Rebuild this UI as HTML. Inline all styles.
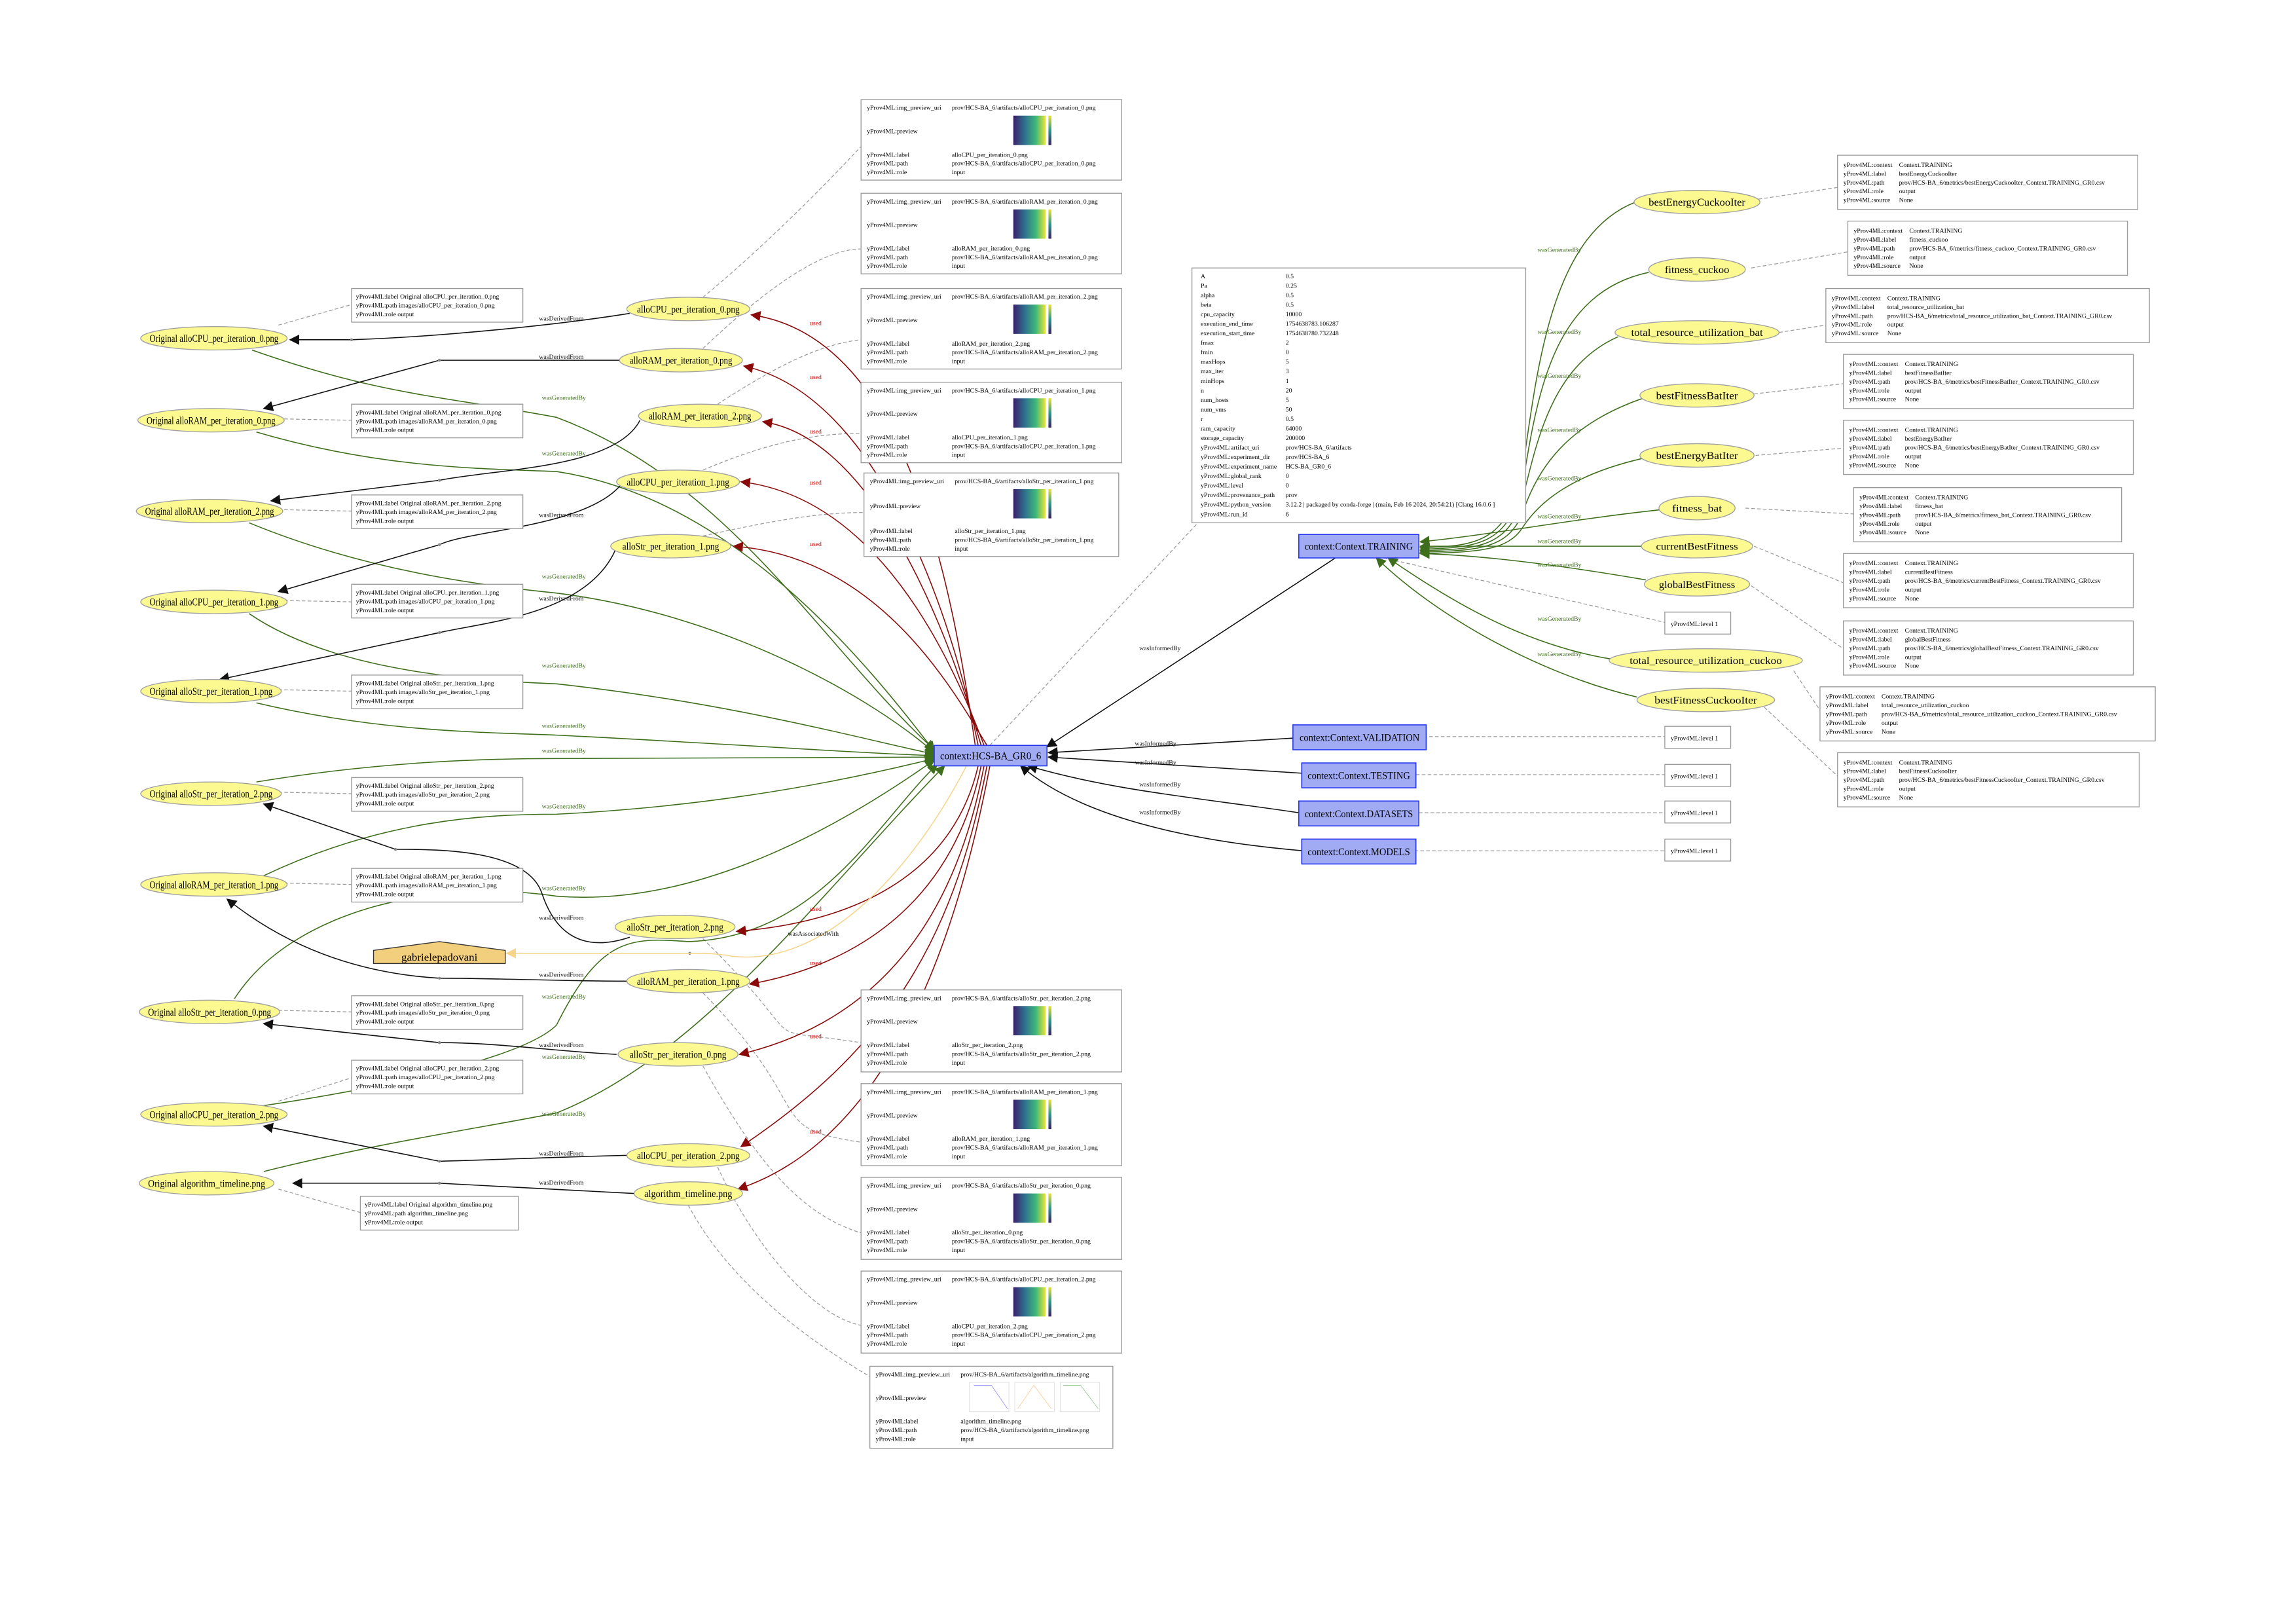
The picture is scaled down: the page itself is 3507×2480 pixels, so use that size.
<!DOCTYPE html>
<html><head><meta charset="utf-8"><style>
html,body{margin:0;padding:0;background:#fff;}
svg{display:block;}
text{font-family:"Liberation Serif",serif;}
.e{fill:#fbf98f;stroke:#a0a0a0;stroke-width:.6;}
.el{font-size:7px;text-anchor:middle;}
.n{fill:#fff;stroke:#999;stroke-width:.6;}
.nt{font-size:4.4px;}
.c{fill:#a1abf4;stroke:#2233ee;stroke-width:.7;}
.ct{font-size:7px;text-anchor:middle;}
.g{fill:none;stroke:#3e6e1c;stroke-width:.7;}
.r{fill:none;stroke:#8a0a0a;stroke-width:.7;}
.k{fill:none;stroke:#111;stroke-width:.7;}
.d{fill:none;stroke:#999;stroke-width:.55;stroke-dasharray:2.5,1.5;}
.lg{font-size:4.4px;fill:#3e6e1c;}
.lr{font-size:4.4px;fill:#cc0000;}
.lk{font-size:4.4px;fill:#111;}
</style></head><body>
<svg width="3507" height="2480" viewBox="0 0 1568 1109" xmlns="http://www.w3.org/2000/svg">
<defs>
<marker id="ag" viewBox="0 0 10 10" refX="9" refY="5" markerWidth="7" markerHeight="7" orient="auto" markerUnits="userSpaceOnUse"><path d="M0,0L10,5L0,10z" fill="#3e6e1c"/></marker>
<marker id="ar" viewBox="0 0 10 10" refX="9" refY="5" markerWidth="7" markerHeight="7" orient="auto" markerUnits="userSpaceOnUse"><path d="M0,0L10,5L0,10z" fill="#8a0a0a"/></marker>
<marker id="ak" viewBox="0 0 10 10" refX="9" refY="5" markerWidth="7" markerHeight="7" orient="auto" markerUnits="userSpaceOnUse"><path d="M0,0L10,5L0,10z" fill="#111"/></marker>
<marker id="ao" viewBox="0 0 10 10" refX="9" refY="5" markerWidth="7" markerHeight="7" orient="auto" markerUnits="userSpaceOnUse"><path d="M0,0L10,5L0,10z" fill="#f5d58a"/></marker>
<linearGradient id="vir" x1="0" x2="1"><stop offset="0" stop-color="#3b1f6a"/><stop offset=".35" stop-color="#2f6f8e"/><stop offset=".7" stop-color="#3db87a"/><stop offset="1" stop-color="#e6e33a"/></linearGradient>
<linearGradient id="vbar" x1="0" x2="0" y1="1" y2="0"><stop offset="0" stop-color="#3b1f6a"/><stop offset=".5" stop-color="#2a9a8a"/><stop offset="1" stop-color="#f0e030"/></linearGradient>
</defs>

<g class="d">
<path d="M190,222 L240,208"/><path d="M190,286 L240,287"/><path d="M190,348 L240,349"/><path d="M190,410 L240,411"/><path d="M190,471 L240,472"/><path d="M190,541 L240,542"/><path d="M190,603 L240,604"/><path d="M190,690 L240,691"/><path d="M190,752 L240,736"/><path d="M190,812 L246,828"/>
<path d="M480,203 C520,170 560,130 588,100"/><path d="M480,238 C520,200 560,170 588,170"/><path d="M490,276 C530,250 560,235 588,232"/><path d="M480,321 C530,300 560,296 588,296"/><path d="M480,366 C530,355 560,350 590,350"/>
<path d="M480,641 C560,720 510,700 588,712"/><path d="M480,678 C560,760 520,770 588,780"/><path d="M480,728 C520,800 550,830 588,842"/><path d="M490,797 C520,860 560,900 588,905"/><path d="M470,823 C500,880 560,920 594,940"/>
<path d="M676,509 L820,355"/>
<path d="M1201,136 L1255,128"/><path d="M1196,183 L1262,172"/><path d="M1215,227 L1247,222"/><path d="M1198,269 L1259,262"/><path d="M1199,311 L1259,306"/><path d="M1192,347 L1266,351"/><path d="M1198,373 L1259,398"/><path d="M1196,400 L1259,443"/><path d="M1225,458 L1243,485"/><path d="M1205,483 L1255,530"/>
<path d="M945,381 L1137,425"/><path d="M972,503 L1137,503"/><path d="M967,529 L1137,529"/><path d="M969,555 L1137,555"/><path d="M966,581 L1137,581"/>
</g>

<g class="g">
<path d="M172,239 C260,270 300,270 380,285 C500,330 560,440 638,512" marker-end="url(#ag)"/>
<path d="M175,295 C260,320 330,320 380,322 C500,340 590,450 638,513" marker-end="url(#ag)"/>
<path d="M170,357 C250,390 330,400 380,405 C500,420 600,480 638,514" marker-end="url(#ag)"/>
<path d="M170,419 C230,460 330,465 380,467 C500,480 590,505 638,515" marker-end="url(#ag)"/>
<path d="M175,480 C260,500 330,500 380,502 C500,508 580,514 638,516" marker-end="url(#ag)"/>
<path d="M175,534 C260,520 330,518 380,518 C500,518 590,517 638,517" marker-end="url(#ag)"/>
<path d="M180,598 C260,560 330,556 380,556 C500,550 590,530 638,518" marker-end="url(#ag)"/>
<path d="M160,682 C200,620 300,600 380,612 C480,620 580,560 638,519" marker-end="url(#ag)"/>
<path d="M180,755 C280,740 360,720 380,700 C410,640 430,640 470,643 C560,640 600,560 640,522" marker-end="url(#ag)"/>
<path d="M180,800 C260,780 330,770 380,760 C480,720 560,610 645,523" marker-end="url(#ag)"/>
</g>
<g class="lg">
<text x="370" y="273">wasGeneratedBy</text><text x="370" y="311">wasGeneratedBy</text><text x="370" y="395">wasGeneratedBy</text><text x="370" y="456">wasGeneratedBy</text><text x="370" y="497">wasGeneratedBy</text><text x="370" y="514">wasGeneratedBy</text><text x="370" y="552">wasGeneratedBy</text><text x="370" y="608">wasGeneratedBy</text><text x="370" y="682">wasGeneratedBy</text><text x="370" y="723">wasGeneratedBy</text><text x="370" y="762">wasGeneratedBy</text>
</g>

<g class="k">
<path d="M430,214 C380,222 300,230 240,232 L198,232" marker-end="url(#ak)"/>
<path d="M424,246 L300,246 L180,279" marker-end="url(#ak)"/>
<path d="M437,287 C420,320 340,320 300,328 L185,342" marker-end="url(#ak)"/>
<path d="M424,331 C400,360 320,362 300,372 L190,404" marker-end="url(#ak)"/>
<path d="M420,376 C400,420 330,425 300,432 L150,464" marker-end="url(#ak)"/>
<path d="M430,640 C400,650 380,640 370,610 C360,580 300,580 270,580 L180,549" marker-end="url(#ak)"/>
<path d="M428,670 C380,670 340,668 300,668 C250,665 200,650 155,614" marker-end="url(#ak)"/>
<path d="M421,720 C380,718 340,712 300,712 L180,699" marker-end="url(#ak)"/>
<path d="M428,789 C380,790 340,792 300,793 L180,769" marker-end="url(#ak)"/>
<path d="M433,815 C380,812 340,810 300,808 L200,808" marker-end="url(#ak)"/>
</g>
<g fill="#888"><circle cx="300" cy="246" r="1"/><circle cx="240" cy="232" r="1"/><circle cx="300" cy="328" r="1"/><circle cx="300" cy="372" r="1"/><circle cx="300" cy="432" r="1"/><circle cx="270" cy="580" r="1"/><circle cx="300" cy="668" r="1"/><circle cx="300" cy="712" r="1"/><circle cx="300" cy="793" r="1"/><circle cx="300" cy="808" r="1"/><circle cx="471" cy="651" r="1"/></g>
<g class="lk">
<text x="368" y="219">wasDerivedFrom</text><text x="368" y="245">wasDerivedFrom</text><text x="368" y="353">wasDerivedFrom</text><text x="368" y="410">wasDerivedFrom</text><text x="368" y="628">wasDerivedFrom</text><text x="368" y="667">wasDerivedFrom</text><text x="368" y="715">wasDerivedFrom</text><text x="368" y="789">wasDerivedFrom</text><text x="368" y="809">wasDerivedFrom</text>
</g>

<g class="r">
<path d="M666,509 C650,400 620,230 513,215" marker-end="url(#ar)"/>
<path d="M668,509 C650,420 600,270 508,250" marker-end="url(#ar)"/>
<path d="M670,509 C650,440 600,300 521,288" marker-end="url(#ar)"/>
<path d="M672,509 C650,450 600,340 506,329" marker-end="url(#ar)"/>
<path d="M674,509 C650,470 600,380 501,373" marker-end="url(#ar)"/>
<path d="M668,523 C650,600 580,630 503,636" marker-end="url(#ar)"/>
<path d="M670,523 C650,620 580,660 512,672" marker-end="url(#ar)"/>
<path d="M672,523 C650,640 590,700 505,720" marker-end="url(#ar)"/>
<path d="M674,523 C650,650 600,720 506,783" marker-end="url(#ar)"/>
<path d="M676,523 C650,660 600,780 504,812" marker-end="url(#ar)"/>
</g>
<g class="lr">
<text x="553" y="222">used</text><text x="553" y="259">used</text><text x="553" y="296">used</text><text x="553" y="331">used</text><text x="553" y="373">used</text><text x="553" y="622">used</text><text x="553" y="659">used</text><text x="553" y="709">used</text><text x="553" y="774">used</text>
</g>

<path d="M660,523 C620,600 560,660 500,653 C490,651 480,651 471,651 L346,651" fill="none" stroke="#f5d58a" stroke-width=".7" marker-end="url(#ao)"/>
<text x="538" y="639" class="lk">wasAssociatedWith</text>

<g class="k">
<path d="M912,381 L715,510" marker-end="url(#ak)"/>
<path d="M884,504 L716,514" marker-end="url(#ak)"/>
<path d="M889,528 L716,517" marker-end="url(#ak)"/>
<path d="M887,555 C820,545 760,540 702,523" marker-end="url(#ak)"/>
<path d="M890,581 C820,575 740,560 697,523" marker-end="url(#ak)"/>
</g>
<g class="lk"><text x="778" y="444">wasInformedBy</text><text x="775" y="509">wasInformedBy</text><text x="775" y="522">wasInformedBy</text><text x="778" y="537">wasInformedBy</text><text x="778" y="556">wasInformedBy</text></g>

<g class="g">
<path d="M1117,138 C1060,160 1050,250 1040,320 C1030,370 1010,373 970,374" marker-end="url(#ag)"/>
<path d="M1126,186 C1060,200 1050,270 1040,330 C1030,372 1010,374 970,375" marker-end="url(#ag)"/>
<path d="M1105,230 C1060,250 1050,300 1040,340 C1030,374 1010,375 970,376" marker-end="url(#ag)"/>
<path d="M1122,272 C1070,290 1050,320 1040,350 C1030,375 1010,376 970,377" marker-end="url(#ag)"/>
<path d="M1122,313 C1070,325 1050,345 1040,360 C1030,376 1010,377 970,378" marker-end="url(#ag)"/>
<path d="M1135,348 C1070,355 1020,365 970,370" marker-end="url(#ag)"/>
<path d="M1122,373 L970,373" marker-end="url(#ag)"/>
<path d="M1124,396 C1060,385 1010,379 970,378" marker-end="url(#ag)"/>
<path d="M1100,450 C1040,440 990,410 948,381" marker-end="url(#ag)"/>
<path d="M1118,476 C1050,460 980,420 940,381" marker-end="url(#ag)"/>
</g>
<g class="lg">
<text x="1050" y="172">wasGeneratedBy</text><text x="1050" y="228">wasGeneratedBy</text><text x="1050" y="258">wasGeneratedBy</text><text x="1050" y="295">wasGeneratedBy</text><text x="1050" y="328">wasGeneratedBy</text><text x="1050" y="354">wasGeneratedBy</text><text x="1050" y="371">wasGeneratedBy</text><text x="1050" y="387">wasGeneratedBy</text><text x="1050" y="424">wasGeneratedBy</text><text x="1050" y="448">wasGeneratedBy</text>
</g>

<rect class="c" x="638" y="509" width="77" height="14"/><text class="ct" x="676.5" y="518.5" textLength="69" lengthAdjust="spacingAndGlyphs">context:HCS-BA_GR0_6</text>
<rect class="c" x="887" y="365" width="82" height="16"/><text class="ct" x="928" y="375.5" textLength="74" lengthAdjust="spacingAndGlyphs">context:Context.TRAINING</text>
<rect class="c" x="883" y="495" width="91" height="17"/><text class="ct" x="928.5" y="506" textLength="82" lengthAdjust="spacingAndGlyphs">context:Context.VALIDATION</text>
<rect class="c" x="889" y="521" width="78" height="17"/><text class="ct" x="928" y="532" textLength="70" lengthAdjust="spacingAndGlyphs">context:Context.TESTING</text>
<rect class="c" x="887" y="547" width="82" height="17"/><text class="ct" x="928" y="558" textLength="74" lengthAdjust="spacingAndGlyphs">context:Context.DATASETS</text>
<rect class="c" x="889" y="573" width="78" height="17"/><text class="ct" x="928" y="584" textLength="70" lengthAdjust="spacingAndGlyphs">context:Context.MODELS</text>

<path d="M255,649 L300,643 L345,649 L345,658 L255,658 Z" fill="#f2cf7c" stroke="#333" stroke-width=".6"/>
<text class="el" x="300" y="656" textLength="52" lengthAdjust="spacingAndGlyphs">gabrielepadovani</text>

<g>
<ellipse class="e" cx="146" cy="231" rx="50" ry="8"/><text class="el" x="146" y="233.5" textLength="88" lengthAdjust="spacingAndGlyphs">Original alloCPU_per_iteration_0.png</text>
<ellipse class="e" cx="144" cy="287" rx="50" ry="8"/><text class="el" x="144" y="289.5" textLength="88" lengthAdjust="spacingAndGlyphs">Original alloRAM_per_iteration_0.png</text>
<ellipse class="e" cx="143" cy="349" rx="50" ry="8"/><text class="el" x="143" y="351.5" textLength="88" lengthAdjust="spacingAndGlyphs">Original alloRAM_per_iteration_2.png</text>
<ellipse class="e" cx="146" cy="411" rx="50" ry="8"/><text class="el" x="146" y="413.5" textLength="88" lengthAdjust="spacingAndGlyphs">Original alloCPU_per_iteration_1.png</text>
<ellipse class="e" cx="144" cy="472" rx="48" ry="8"/><text class="el" x="144" y="474.5" textLength="84" lengthAdjust="spacingAndGlyphs">Original alloStr_per_iteration_1.png</text>
<ellipse class="e" cx="144" cy="542" rx="48" ry="8"/><text class="el" x="144" y="544.5" textLength="84" lengthAdjust="spacingAndGlyphs">Original alloStr_per_iteration_2.png</text>
<ellipse class="e" cx="146" cy="604" rx="50" ry="8"/><text class="el" x="146" y="606.5" textLength="88" lengthAdjust="spacingAndGlyphs">Original alloRAM_per_iteration_1.png</text>
<ellipse class="e" cx="143" cy="691" rx="48" ry="8"/><text class="el" x="143" y="693.5" textLength="84" lengthAdjust="spacingAndGlyphs">Original alloStr_per_iteration_0.png</text>
<ellipse class="e" cx="146" cy="761" rx="50" ry="8"/><text class="el" x="146" y="763.5" textLength="88" lengthAdjust="spacingAndGlyphs">Original alloCPU_per_iteration_2.png</text>
<ellipse class="e" cx="141" cy="808" rx="46" ry="8"/><text class="el" x="141" y="810.5" textLength="80" lengthAdjust="spacingAndGlyphs">Original algorithm_timeline.png</text>

<ellipse class="e" cx="470" cy="211" rx="42" ry="8"/><text class="el" x="470" y="213.5" textLength="70" lengthAdjust="spacingAndGlyphs">alloCPU_per_iteration_0.png</text>
<ellipse class="e" cx="465" cy="246" rx="42" ry="8"/><text class="el" x="465" y="248.5" textLength="70" lengthAdjust="spacingAndGlyphs">alloRAM_per_iteration_0.png</text>
<ellipse class="e" cx="478" cy="284" rx="42" ry="8"/><text class="el" x="478" y="286.5" textLength="70" lengthAdjust="spacingAndGlyphs">alloRAM_per_iteration_2.png</text>
<ellipse class="e" cx="463" cy="329" rx="42" ry="8"/><text class="el" x="463" y="331.5" textLength="70" lengthAdjust="spacingAndGlyphs">alloCPU_per_iteration_1.png</text>
<ellipse class="e" cx="458" cy="373" rx="41" ry="8"/><text class="el" x="458" y="375.5" textLength="66" lengthAdjust="spacingAndGlyphs">alloStr_per_iteration_1.png</text>
<ellipse class="e" cx="461" cy="633" rx="41" ry="8"/><text class="el" x="461" y="635.5" textLength="66" lengthAdjust="spacingAndGlyphs">alloStr_per_iteration_2.png</text>
<ellipse class="e" cx="470" cy="670" rx="42" ry="8"/><text class="el" x="470" y="672.5" textLength="70" lengthAdjust="spacingAndGlyphs">alloRAM_per_iteration_1.png</text>
<ellipse class="e" cx="463" cy="720" rx="41" ry="8"/><text class="el" x="463" y="722.5" textLength="66" lengthAdjust="spacingAndGlyphs">alloStr_per_iteration_0.png</text>
<ellipse class="e" cx="470" cy="789" rx="42" ry="8"/><text class="el" x="470" y="791.5" textLength="70" lengthAdjust="spacingAndGlyphs">alloCPU_per_iteration_2.png</text>
<ellipse class="e" cx="470" cy="815" rx="37" ry="8"/><text class="el" x="470" y="817.5" textLength="60" lengthAdjust="spacingAndGlyphs">algorithm_timeline.png</text>

<ellipse class="e" cx="1159" cy="138" rx="43" ry="8"/><text class="el" x="1159" y="140.5" textLength="66" lengthAdjust="spacingAndGlyphs">bestEnergyCuckooIter</text>
<ellipse class="e" cx="1159" cy="184" rx="33" ry="8"/><text class="el" x="1159" y="186.5" textLength="44" lengthAdjust="spacingAndGlyphs">fitness_cuckoo</text>
<ellipse class="e" cx="1159" cy="227" rx="56" ry="8"/><text class="el" x="1159" y="229.5" textLength="90" lengthAdjust="spacingAndGlyphs">total_resource_utilization_bat</text>
<ellipse class="e" cx="1159" cy="270" rx="39" ry="8"/><text class="el" x="1159" y="272.5" textLength="56" lengthAdjust="spacingAndGlyphs">bestFitnessBatIter</text>
<ellipse class="e" cx="1159" cy="311" rx="39" ry="8"/><text class="el" x="1159" y="313.5" textLength="56" lengthAdjust="spacingAndGlyphs">bestEnergyBatIter</text>
<ellipse class="e" cx="1159" cy="347" rx="26" ry="8"/><text class="el" x="1159" y="349.5" textLength="34" lengthAdjust="spacingAndGlyphs">fitness_bat</text>
<ellipse class="e" cx="1159" cy="373" rx="38" ry="8"/><text class="el" x="1159" y="375.5" textLength="56" lengthAdjust="spacingAndGlyphs">currentBestFitness</text>
<ellipse class="e" cx="1159" cy="399" rx="36" ry="8"/><text class="el" x="1159" y="401.5" textLength="52" lengthAdjust="spacingAndGlyphs">globalBestFitness</text>
<ellipse class="e" cx="1165" cy="451" rx="66" ry="8"/><text class="el" x="1165" y="453.5" textLength="104" lengthAdjust="spacingAndGlyphs">total_resource_utilization_cuckoo</text>
<ellipse class="e" cx="1165" cy="478" rx="47" ry="8"/><text class="el" x="1165" y="480.5" textLength="70" lengthAdjust="spacingAndGlyphs">bestFitnessCuckooIter</text>
</g>

<g class="nt">
<rect class="n" x="240" y="197" width="117" height="23"/><text x="243" y="204">yProv4ML:label  Original alloCPU_per_iteration_0.png</text><text x="243" y="210">yProv4ML:path   images/alloCPU_per_iteration_0.png</text><text x="243" y="216">yProv4ML:role   output</text>
<rect class="n" x="240" y="276" width="117" height="23"/><text x="243" y="283">yProv4ML:label  Original alloRAM_per_iteration_0.png</text><text x="243" y="289">yProv4ML:path   images/alloRAM_per_iteration_0.png</text><text x="243" y="295">yProv4ML:role   output</text>
<rect class="n" x="240" y="338" width="117" height="23"/><text x="243" y="345">yProv4ML:label  Original alloRAM_per_iteration_2.png</text><text x="243" y="351">yProv4ML:path   images/alloRAM_per_iteration_2.png</text><text x="243" y="357">yProv4ML:role   output</text>
<rect class="n" x="240" y="399" width="117" height="23"/><text x="243" y="406">yProv4ML:label  Original alloCPU_per_iteration_1.png</text><text x="243" y="412">yProv4ML:path   images/alloCPU_per_iteration_1.png</text><text x="243" y="418">yProv4ML:role   output</text>
<rect class="n" x="240" y="461" width="117" height="23"/><text x="243" y="468">yProv4ML:label  Original alloStr_per_iteration_1.png</text><text x="243" y="474">yProv4ML:path   images/alloStr_per_iteration_1.png</text><text x="243" y="480">yProv4ML:role   output</text>
<rect class="n" x="240" y="531" width="117" height="23"/><text x="243" y="538">yProv4ML:label  Original alloStr_per_iteration_2.png</text><text x="243" y="544">yProv4ML:path   images/alloStr_per_iteration_2.png</text><text x="243" y="550">yProv4ML:role   output</text>
<rect class="n" x="240" y="593" width="117" height="23"/><text x="243" y="600">yProv4ML:label  Original alloRAM_per_iteration_1.png</text><text x="243" y="606">yProv4ML:path   images/alloRAM_per_iteration_1.png</text><text x="243" y="612">yProv4ML:role   output</text>
<rect class="n" x="240" y="680" width="117" height="23"/><text x="243" y="687">yProv4ML:label  Original alloStr_per_iteration_0.png</text><text x="243" y="693">yProv4ML:path   images/alloStr_per_iteration_0.png</text><text x="243" y="699">yProv4ML:role   output</text>
<rect class="n" x="240" y="724" width="117" height="23"/><text x="243" y="731">yProv4ML:label  Original alloCPU_per_iteration_2.png</text><text x="243" y="737">yProv4ML:path   images/alloCPU_per_iteration_2.png</text><text x="243" y="743">yProv4ML:role   output</text>
<rect class="n" x="246" y="817" width="108" height="23"/><text x="249" y="824">yProv4ML:label  Original algorithm_timeline.png</text><text x="249" y="830">yProv4ML:path   algorithm_timeline.png</text><text x="249" y="836">yProv4ML:role   output</text>
</g>

<g class="nt">
<rect class="n" x="588" y="68" width="178" height="55"/><text x="592" y="75">yProv4ML:img_preview_uri</text><text x="650" y="75">prov/HCS-BA_6/artifacts/alloCPU_per_iteration_0.png</text><text x="592" y="91">yProv4ML:preview</text><rect x="692" y="79" width="22" height="20" fill="url(#vir)"/><rect x="716" y="79" width="2" height="20" fill="url(#vbar)"/><text x="592" y="107">yProv4ML:label</text><text x="650" y="107">alloCPU_per_iteration_0.png</text><text x="592" y="113">yProv4ML:path</text><text x="650" y="113">prov/HCS-BA_6/artifacts/alloCPU_per_iteration_0.png</text><text x="592" y="119">yProv4ML:role</text><text x="650" y="119">input</text>

<rect class="n" x="588" y="132" width="178" height="55"/><text x="592" y="139">yProv4ML:img_preview_uri</text><text x="650" y="139">prov/HCS-BA_6/artifacts/alloRAM_per_iteration_0.png</text><text x="592" y="155">yProv4ML:preview</text><rect x="692" y="143" width="22" height="20" fill="url(#vir)"/><rect x="716" y="143" width="2" height="20" fill="url(#vbar)"/><text x="592" y="171">yProv4ML:label</text><text x="650" y="171">alloRAM_per_iteration_0.png</text><text x="592" y="177">yProv4ML:path</text><text x="650" y="177">prov/HCS-BA_6/artifacts/alloRAM_per_iteration_0.png</text><text x="592" y="183">yProv4ML:role</text><text x="650" y="183">input</text>

<rect class="n" x="588" y="197" width="178" height="55"/><text x="592" y="204">yProv4ML:img_preview_uri</text><text x="650" y="204">prov/HCS-BA_6/artifacts/alloRAM_per_iteration_2.png</text><text x="592" y="220">yProv4ML:preview</text><rect x="692" y="208" width="22" height="20" fill="url(#vir)"/><rect x="716" y="208" width="2" height="20" fill="url(#vbar)"/><text x="592" y="236">yProv4ML:label</text><text x="650" y="236">alloRAM_per_iteration_2.png</text><text x="592" y="242">yProv4ML:path</text><text x="650" y="242">prov/HCS-BA_6/artifacts/alloRAM_per_iteration_2.png</text><text x="592" y="248">yProv4ML:role</text><text x="650" y="248">input</text>

<rect class="n" x="588" y="261" width="178" height="55"/><text x="592" y="268">yProv4ML:img_preview_uri</text><text x="650" y="268">prov/HCS-BA_6/artifacts/alloCPU_per_iteration_1.png</text><text x="592" y="284">yProv4ML:preview</text><rect x="692" y="272" width="22" height="20" fill="url(#vir)"/><rect x="716" y="272" width="2" height="20" fill="url(#vbar)"/><text x="592" y="300">yProv4ML:label</text><text x="650" y="300">alloCPU_per_iteration_1.png</text><text x="592" y="306">yProv4ML:path</text><text x="650" y="306">prov/HCS-BA_6/artifacts/alloCPU_per_iteration_1.png</text><text x="592" y="312">yProv4ML:role</text><text x="650" y="312">input</text>

<rect class="n" x="590" y="323" width="174" height="57"/><text x="594" y="330">yProv4ML:img_preview_uri</text><text x="652" y="330">prov/HCS-BA_6/artifacts/alloStr_per_iteration_1.png</text><text x="594" y="347">yProv4ML:preview</text><rect x="692" y="334" width="22" height="20" fill="url(#vir)"/><rect x="716" y="334" width="2" height="20" fill="url(#vbar)"/><text x="594" y="364">yProv4ML:label</text><text x="652" y="364">alloStr_per_iteration_1.png</text><text x="594" y="370">yProv4ML:path</text><text x="652" y="370">prov/HCS-BA_6/artifacts/alloStr_per_iteration_1.png</text><text x="594" y="376">yProv4ML:role</text><text x="652" y="376">input</text>

<rect class="n" x="588" y="676" width="178" height="56"/><text x="592" y="683">yProv4ML:img_preview_uri</text><text x="650" y="683">prov/HCS-BA_6/artifacts/alloStr_per_iteration_2.png</text><text x="592" y="699">yProv4ML:preview</text><rect x="692" y="687" width="22" height="20" fill="url(#vir)"/><rect x="716" y="687" width="2" height="20" fill="url(#vbar)"/><text x="592" y="715">yProv4ML:label</text><text x="650" y="715">alloStr_per_iteration_2.png</text><text x="592" y="721">yProv4ML:path</text><text x="650" y="721">prov/HCS-BA_6/artifacts/alloStr_per_iteration_2.png</text><text x="592" y="727">yProv4ML:role</text><text x="650" y="727">input</text>

<rect class="n" x="588" y="740" width="178" height="56"/><text x="592" y="747">yProv4ML:img_preview_uri</text><text x="650" y="747">prov/HCS-BA_6/artifacts/alloRAM_per_iteration_1.png</text><text x="592" y="763">yProv4ML:preview</text><rect x="692" y="751" width="22" height="20" fill="url(#vir)"/><rect x="716" y="751" width="2" height="20" fill="url(#vbar)"/><text x="592" y="779">yProv4ML:label</text><text x="650" y="779">alloRAM_per_iteration_1.png</text><text x="592" y="785">yProv4ML:path</text><text x="650" y="785">prov/HCS-BA_6/artifacts/alloRAM_per_iteration_1.png</text><text x="592" y="791">yProv4ML:role</text><text x="650" y="791">input</text>

<rect class="n" x="588" y="804" width="178" height="56"/><text x="592" y="811">yProv4ML:img_preview_uri</text><text x="650" y="811">prov/HCS-BA_6/artifacts/alloStr_per_iteration_0.png</text><text x="592" y="827">yProv4ML:preview</text><rect x="692" y="815" width="22" height="20" fill="url(#vir)"/><rect x="716" y="815" width="2" height="20" fill="url(#vbar)"/><text x="592" y="843">yProv4ML:label</text><text x="650" y="843">alloStr_per_iteration_0.png</text><text x="592" y="849">yProv4ML:path</text><text x="650" y="849">prov/HCS-BA_6/artifacts/alloStr_per_iteration_0.png</text><text x="592" y="855">yProv4ML:role</text><text x="650" y="855">input</text>

<rect class="n" x="588" y="868" width="178" height="56"/><text x="592" y="875">yProv4ML:img_preview_uri</text><text x="650" y="875">prov/HCS-BA_6/artifacts/alloCPU_per_iteration_2.png</text><text x="592" y="891">yProv4ML:preview</text><rect x="692" y="879" width="22" height="20" fill="url(#vir)"/><rect x="716" y="879" width="2" height="20" fill="url(#vbar)"/><text x="592" y="907">yProv4ML:label</text><text x="650" y="907">alloCPU_per_iteration_2.png</text><text x="592" y="913">yProv4ML:path</text><text x="650" y="913">prov/HCS-BA_6/artifacts/alloCPU_per_iteration_2.png</text><text x="592" y="919">yProv4ML:role</text><text x="650" y="919">input</text>

<rect class="n" x="594" y="933" width="166" height="56"/><text x="598" y="940">yProv4ML:img_preview_uri</text><text x="656" y="940">prov/HCS-BA_6/artifacts/algorithm_timeline.png</text><text x="598" y="956">yProv4ML:preview</text>
<g fill="none" stroke-width=".4"><rect x="662" y="944" width="27" height="20" stroke="#ddd"/><path d="M665,946 L677,946 L688,962" stroke="#99f"/><rect x="693" y="944" width="27" height="20" stroke="#ddd"/><path d="M695,962 L706,946 L718,962" stroke="#fc9"/><rect x="724" y="944" width="27" height="20" stroke="#ddd"/><path d="M726,946 L738,946 L750,962" stroke="#9c9"/></g>
<text x="598" y="972">yProv4ML:label</text><text x="656" y="972">algorithm_timeline.png</text><text x="598" y="978">yProv4ML:path</text><text x="656" y="978">prov/HCS-BA_6/artifacts/algorithm_timeline.png</text><text x="598" y="984">yProv4ML:role</text><text x="656" y="984">input</text>
</g>

<rect class="n" x="814" y="183" width="228" height="174"/>
<g class="nt">
<text x="820" y="190">A</text><text x="878" y="190">0.5</text>
<text x="820" y="196.5">Pa</text><text x="878" y="196.5">0.25</text>
<text x="820" y="203">alpha</text><text x="878" y="203">0.5</text>
<text x="820" y="209.5">beta</text><text x="878" y="209.5">0.5</text>
<text x="820" y="216">cpu_capacity</text><text x="878" y="216">10000</text>
<text x="820" y="222.5">execution_end_time</text><text x="878" y="222.5">1754638783.106287</text>
<text x="820" y="229">execution_start_time</text><text x="878" y="229">1754638780.732248</text>
<text x="820" y="235.5">fmax</text><text x="878" y="235.5">2</text>
<text x="820" y="242">fmin</text><text x="878" y="242">0</text>
<text x="820" y="248.5">maxHops</text><text x="878" y="248.5">5</text>
<text x="820" y="255">max_iter</text><text x="878" y="255">3</text>
<text x="820" y="261.5">minHops</text><text x="878" y="261.5">1</text>
<text x="820" y="268">n</text><text x="878" y="268">20</text>
<text x="820" y="274.5">num_hosts</text><text x="878" y="274.5">5</text>
<text x="820" y="281">num_vms</text><text x="878" y="281">50</text>
<text x="820" y="287.5">r</text><text x="878" y="287.5">0.5</text>
<text x="820" y="294">ram_capacity</text><text x="878" y="294">64000</text>
<text x="820" y="300.5">storage_capacity</text><text x="878" y="300.5">200000</text>
<text x="820" y="307">yProv4ML:artifact_uri</text><text x="878" y="307">prov/HCS-BA_6/artifacts</text>
<text x="820" y="313.5">yProv4ML:experiment_dir</text><text x="878" y="313.5">prov/HCS-BA_6</text>
<text x="820" y="320">yProv4ML:experiment_name</text><text x="878" y="320">HCS-BA_GR0_6</text>
<text x="820" y="326.5">yProv4ML:global_rank</text><text x="878" y="326.5">0</text>
<text x="820" y="333">yProv4ML:level</text><text x="878" y="333">0</text>
<text x="820" y="339.5">yProv4ML:provenance_path</text><text x="878" y="339.5">prov</text>
<text x="820" y="346">yProv4ML:python_version</text><text x="878" y="346">3.12.2 | packaged by conda-forge | (main, Feb 16 2024, 20:54:21) [Clang 16.0.6 ]</text>
<text x="820" y="352.5">yProv4ML:run_id</text><text x="878" y="352.5">6</text>
</g>

<g class="nt">
<rect class="n" x="1255" y="106" width="205" height="37"/><text x="1259" y="114">yProv4ML:context</text><text x="1297" y="114">Context.TRAINING</text><text x="1259" y="120">yProv4ML:label</text><text x="1297" y="120">bestEnergyCuckooIter</text><text x="1259" y="126">yProv4ML:path</text><text x="1297" y="126">prov/HCS-BA_6/metrics/bestEnergyCuckooIter_Context.TRAINING_GR0.csv</text><text x="1259" y="132">yProv4ML:role</text><text x="1297" y="132">output</text><text x="1259" y="138">yProv4ML:source</text><text x="1297" y="138">None</text>
<rect class="n" x="1262" y="151" width="191" height="37"/><text x="1266" y="159">yProv4ML:context</text><text x="1304" y="159">Context.TRAINING</text><text x="1266" y="165">yProv4ML:label</text><text x="1304" y="165">fitness_cuckoo</text><text x="1266" y="171">yProv4ML:path</text><text x="1304" y="171">prov/HCS-BA_6/metrics/fitness_cuckoo_Context.TRAINING_GR0.csv</text><text x="1266" y="177">yProv4ML:role</text><text x="1304" y="177">output</text><text x="1266" y="183">yProv4ML:source</text><text x="1304" y="183">None</text>
<rect class="n" x="1247" y="197" width="221" height="37"/><text x="1251" y="205">yProv4ML:context</text><text x="1289" y="205">Context.TRAINING</text><text x="1251" y="211">yProv4ML:label</text><text x="1289" y="211">total_resource_utilization_bat</text><text x="1251" y="217">yProv4ML:path</text><text x="1289" y="217">prov/HCS-BA_6/metrics/total_resource_utilization_bat_Context.TRAINING_GR0.csv</text><text x="1251" y="223">yProv4ML:role</text><text x="1289" y="223">output</text><text x="1251" y="229">yProv4ML:source</text><text x="1289" y="229">None</text>
<rect class="n" x="1259" y="242" width="198" height="37"/><text x="1263" y="250">yProv4ML:context</text><text x="1301" y="250">Context.TRAINING</text><text x="1263" y="256">yProv4ML:label</text><text x="1301" y="256">bestFitnessBatIter</text><text x="1263" y="262">yProv4ML:path</text><text x="1301" y="262">prov/HCS-BA_6/metrics/bestFitnessBatIter_Context.TRAINING_GR0.csv</text><text x="1263" y="268">yProv4ML:role</text><text x="1301" y="268">output</text><text x="1263" y="274">yProv4ML:source</text><text x="1301" y="274">None</text>
<rect class="n" x="1259" y="287" width="198" height="37"/><text x="1263" y="295">yProv4ML:context</text><text x="1301" y="295">Context.TRAINING</text><text x="1263" y="301">yProv4ML:label</text><text x="1301" y="301">bestEnergyBatIter</text><text x="1263" y="307">yProv4ML:path</text><text x="1301" y="307">prov/HCS-BA_6/metrics/bestEnergyBatIter_Context.TRAINING_GR0.csv</text><text x="1263" y="313">yProv4ML:role</text><text x="1301" y="313">output</text><text x="1263" y="319">yProv4ML:source</text><text x="1301" y="319">None</text>
<rect class="n" x="1266" y="333" width="183" height="37"/><text x="1270" y="341">yProv4ML:context</text><text x="1308" y="341">Context.TRAINING</text><text x="1270" y="347">yProv4ML:label</text><text x="1308" y="347">fitness_bat</text><text x="1270" y="353">yProv4ML:path</text><text x="1308" y="353">prov/HCS-BA_6/metrics/fitness_bat_Context.TRAINING_GR0.csv</text><text x="1270" y="359">yProv4ML:role</text><text x="1308" y="359">output</text><text x="1270" y="365">yProv4ML:source</text><text x="1308" y="365">None</text>
<rect class="n" x="1259" y="378" width="198" height="37"/><text x="1263" y="386">yProv4ML:context</text><text x="1301" y="386">Context.TRAINING</text><text x="1263" y="392">yProv4ML:label</text><text x="1301" y="392">currentBestFitness</text><text x="1263" y="398">yProv4ML:path</text><text x="1301" y="398">prov/HCS-BA_6/metrics/currentBestFitness_Context.TRAINING_GR0.csv</text><text x="1263" y="404">yProv4ML:role</text><text x="1301" y="404">output</text><text x="1263" y="410">yProv4ML:source</text><text x="1301" y="410">None</text>
<rect class="n" x="1259" y="424" width="198" height="37"/><text x="1263" y="432">yProv4ML:context</text><text x="1301" y="432">Context.TRAINING</text><text x="1263" y="438">yProv4ML:label</text><text x="1301" y="438">globalBestFitness</text><text x="1263" y="444">yProv4ML:path</text><text x="1301" y="444">prov/HCS-BA_6/metrics/globalBestFitness_Context.TRAINING_GR0.csv</text><text x="1263" y="450">yProv4ML:role</text><text x="1301" y="450">output</text><text x="1263" y="456">yProv4ML:source</text><text x="1301" y="456">None</text>
<rect class="n" x="1243" y="469" width="229" height="37"/><text x="1247" y="477">yProv4ML:context</text><text x="1285" y="477">Context.TRAINING</text><text x="1247" y="483">yProv4ML:label</text><text x="1285" y="483">total_resource_utilization_cuckoo</text><text x="1247" y="489">yProv4ML:path</text><text x="1285" y="489">prov/HCS-BA_6/metrics/total_resource_utilization_cuckoo_Context.TRAINING_GR0.csv</text><text x="1247" y="495">yProv4ML:role</text><text x="1285" y="495">output</text><text x="1247" y="501">yProv4ML:source</text><text x="1285" y="501">None</text>
<rect class="n" x="1255" y="514" width="206" height="37"/><text x="1259" y="522">yProv4ML:context</text><text x="1297" y="522">Context.TRAINING</text><text x="1259" y="528">yProv4ML:label</text><text x="1297" y="528">bestFitnessCuckooIter</text><text x="1259" y="534">yProv4ML:path</text><text x="1297" y="534">prov/HCS-BA_6/metrics/bestFitnessCuckooIter_Context.TRAINING_GR0.csv</text><text x="1259" y="540">yProv4ML:role</text><text x="1297" y="540">output</text><text x="1259" y="546">yProv4ML:source</text><text x="1297" y="546">None</text>

<rect class="n" x="1137" y="418" width="45" height="15"/><text x="1141" y="427.5">yProv4ML:level 1</text>
<rect class="n" x="1137" y="496" width="45" height="15"/><text x="1141" y="505.5">yProv4ML:level 1</text>
<rect class="n" x="1137" y="522" width="45" height="15"/><text x="1141" y="531.5">yProv4ML:level 1</text>
<rect class="n" x="1137" y="547" width="45" height="15"/><text x="1141" y="556.5">yProv4ML:level 1</text>
<rect class="n" x="1137" y="573" width="45" height="15"/><text x="1141" y="582.5">yProv4ML:level 1</text>
</g>
</svg>
</body></html>
